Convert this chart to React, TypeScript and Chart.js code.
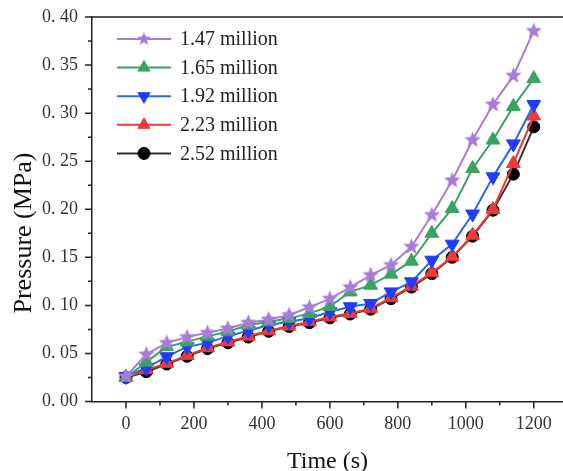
import React, { useEffect, useRef } from "react";
import { Chart, registerables } from "chart.js";

Chart.register(...registerables);

const times = [0, 60, 120, 180, 240, 300, 360, 420, 480, 540, 600, 660, 720, 780, 840, 900, 960, 1020, 1080, 1140, 1200];
const p147 = [0.026, 0.049, 0.061, 0.067, 0.0715, 0.076, 0.082, 0.0854, 0.09, 0.098, 0.107, 0.1187, 0.1315, 0.142, 0.161, 0.194, 0.23, 0.272, 0.309, 0.339, 0.3855];
const p165 = [0.025, 0.041, 0.057, 0.062, 0.068, 0.0726, 0.0795, 0.083, 0.0865, 0.0917, 0.099, 0.114, 0.121, 0.1325, 0.146, 0.175, 0.2008, 0.2424, 0.272, 0.307, 0.336];
const p192 = [0.026, 0.035, 0.0466, 0.057, 0.061, 0.068, 0.0736, 0.0795, 0.083, 0.0865, 0.0934, 0.0986, 0.102, 0.114, 0.1245, 0.147, 0.1637, 0.195, 0.2337, 0.268, 0.309];
const p223 = [0.025, 0.033, 0.0397, 0.048, 0.056, 0.062, 0.068, 0.0736, 0.0785, 0.083, 0.088, 0.0917, 0.0969, 0.108, 0.12, 0.134, 0.1505, 0.173, 0.1998, 0.2476, 0.297];
const p252 = [0.025, 0.031, 0.039, 0.047, 0.055, 0.061, 0.067, 0.073, 0.078, 0.082, 0.087, 0.091, 0.096, 0.107, 0.119, 0.133, 0.15, 0.172, 0.199, 0.2365, 0.2857];

const seriesNames = ["1.47 million", "1.65 million", "1.92 million", "2.23 million", "2.52 million"];
const xTicks = [0, 200, 400, 600, 800, 1000, 1200];
const xMinorTicks = [100, 300, 500, 700, 900, 1100];
const yTicks = [0, 0.05, 0.1, 0.15, 0.2, 0.25, 0.3, 0.35, 0.4];
const yMinorTicks = [0.025, 0.075, 0.125, 0.175, 0.225, 0.275, 0.325, 0.375];

const xTitle = "Time (s)";
const yTitle = "Pressure (MPa)";

function makeStar(color: string, R: number) {
  const c = document.createElement("canvas");
  const s = Math.ceil(R * 2 + 2);
  c.width = s;
  c.height = s;
  const ctx = c.getContext("2d")!;
  const cx = s / 2, cy = s / 2;
  const r = R * 0.45;
  ctx.beginPath();
  for (let i = 0; i < 10; i++) {
    const a = -Math.PI / 2 + (i * Math.PI) / 5;
    const rr = i % 2 === 0 ? R : r;
    const px = cx + Math.cos(a) * rr, py = cy + Math.sin(a) * rr;
    if (i === 0) ctx.moveTo(px, py);
    else ctx.lineTo(px, py);
  }
  ctx.closePath();
  ctx.fillStyle = color;
  ctx.fill();
  return c;
}

const AXIS_COLOR = "#222";
const FONT = "'Liberation Serif', 'Times New Roman', serif";

function drawPointLegend(ctx: CanvasRenderingContext2D, style: any, r: number, rot: number, x: number, y: number) {
  if (typeof style !== "string") {
    ctx.drawImage(style, x - style.width / 2, y - style.height / 2);
    return;
  }
  ctx.beginPath();
  if (style === "circle") {
    ctx.arc(x, y, r, 0, Math.PI * 2);
  } else {
    let rad = (rot * Math.PI) / 180;
    for (let k = 0; k < 3; k++) {
      const px = x + Math.sin(rad) * r, py = y - Math.cos(rad) * r;
      if (k === 0) ctx.moveTo(px, py);
      else ctx.lineTo(px, py);
      rad += (2 * Math.PI) / 3;
    }
    ctx.closePath();
  }
  ctx.fill();
  ctx.stroke();
}

export default function App() {
  const ref = useRef<HTMLCanvasElement>(null);

  useEffect(() => {
    document.body.style.margin = "0";
    const star = makeStar("#A87DDA", 8.5);
    const legendStar = makeStar("#A87DDA", 7);

    const mk = (vals: number[]) => times.map((t, i) => ({ x: t, y: vals[i] }));

    const datasets: any[] = [
      { label: seriesNames[0], data: mk(p147), borderColor: "#A87DDA", backgroundColor: "#A87DDA", pointStyle: star, pointRadius: 8, legendStyle: legendStar },
      { label: seriesNames[1], data: mk(p165), borderColor: "#3BA35F", backgroundColor: "#3BA35F", pointStyle: "triangle", pointRadius: 8, pointRotation: 0 },
      { label: seriesNames[2], data: mk(p192), borderColor: "#2A6AE6", backgroundColor: "#1F3CFF", pointBorderColor: "#1F3CFF", pointStyle: "triangle", pointRadius: 8, pointRotation: 180 },
      { label: seriesNames[3], data: mk(p223), borderColor: "#EE3A3A", backgroundColor: "#EE3A3A", pointStyle: "triangle", pointRadius: 8, pointRotation: 0 },
      { label: seriesNames[4], data: mk(p252), borderColor: "#333", backgroundColor: "#000", pointBorderColor: "#000", pointStyle: "circle", pointRadius: 6, pointRotation: 0 },
    ].map((d) => ({ borderWidth: 2, pointBorderWidth: 1, pointHoverRadius: d.pointRadius, tension: 0, ...d }));

    const decor = {
      id: "decor",
      afterDraw(chart: any) {
        const ctx = chart.ctx;
        const { left, right, top, bottom } = chart.chartArea;
        const xs = chart.scales.x, ys = chart.scales.y;
        ctx.save();
        ctx.strokeStyle = AXIS_COLOR;
        ctx.lineWidth = 1.5;
        ctx.beginPath();
        ctx.moveTo(left, top);
        ctx.lineTo(right, top);
        xTicks.forEach((v) => {
          const px = xs.getPixelForValue(v);
          ctx.moveTo(px, bottom);
          ctx.lineTo(px, bottom + 7);
        });
        xMinorTicks.forEach((v) => {
          const px = xs.getPixelForValue(v);
          ctx.moveTo(px, bottom);
          ctx.lineTo(px, bottom + 4);
        });
        yTicks.forEach((v) => {
          const py = ys.getPixelForValue(v);
          ctx.moveTo(left, py);
          ctx.lineTo(left - 7, py);
        });
        yMinorTicks.forEach((v) => {
          const py = ys.getPixelForValue(v);
          ctx.moveTo(left, py);
          ctx.lineTo(left - 4, py);
        });
        ctx.stroke();

        // titles
        ctx.fillStyle = "#111";
        ctx.textAlign = "center";
        ctx.textBaseline = "alphabetic";
        ctx.font = `24px ${FONT}`;
        ctx.fillText(xTitle, (left + right) / 2, 468);
        ctx.save();
        ctx.translate(31, 233);
        ctx.rotate(-Math.PI / 2);
        ctx.font = `26px ${FONT}`;
        ctx.fillText(yTitle, 0, 0);
        ctx.restore();

        // legend
        chart.data.datasets.forEach((d: any, i: number) => {
          const y = top + 22 + i * 28.6;
          const x0 = left + 25, x1 = left + 79;
          ctx.strokeStyle = d.borderColor;
          ctx.lineWidth = 2;
          ctx.beginPath();
          ctx.moveTo(x0, y);
          ctx.lineTo(x1, y);
          ctx.stroke();
          const style = d.legendStyle || d.pointStyle;
          ctx.fillStyle = d.backgroundColor;
          ctx.strokeStyle = d.pointBorderColor || d.backgroundColor;
          ctx.lineWidth = 1;
          drawPointLegend(ctx, style, d.pointRadius - (style === "circle" ? 0 : 1), d.pointRotation || 0, (x0 + x1) / 2, y);
          ctx.fillStyle = "#222";
          ctx.textAlign = "left";
          ctx.textBaseline = "middle";
          ctx.font = `20px ${FONT}`;
          ctx.fillText(d.label, left + 88, y + 1);
        });
        ctx.restore();
      },
    };

    const chart = new Chart(ref.current!, {
      type: "line",
      data: { datasets },
      options: {
        animation: false,
        responsive: false,
        maintainAspectRatio: false,
        layout: { autoPadding: false, padding: { top: 17, right: 0, left: 0, bottom: 0 } },
        plugins: { legend: { display: false }, tooltip: { enabled: false } },
        scales: {
          x: {
            type: "linear",
            min: -100,
            max: 1286,
            afterFit: (s: any) => { s.height = 69.5; s.paddingLeft = 0; s.paddingRight = 0; },
            afterBuildTicks: (s: any) => { s.ticks = xTicks.map((v) => ({ value: v })); },
            grid: { display: true, drawOnChartArea: false, drawTicks: false },
            border: { display: true, color: AXIS_COLOR, width: 1.5 },
            ticks: { padding: 12, color: "#333", font: { family: FONT, size: 18 }, callback: (v: any) => String(v) },
          },
          y: {
            type: "linear",
            min: 0,
            max: 0.4,
            afterFit: (s: any) => { s.width = 92; s.paddingTop = 0; s.paddingBottom = 0; },
            afterBuildTicks: (s: any) => { s.ticks = yTicks.map((v) => ({ value: v })); },
            grid: { display: true, drawOnChartArea: false, drawTicks: false },
            border: { display: true, color: AXIS_COLOR, width: 1.5 },
            ticks: { padding: 14, color: "#333", font: { family: FONT, size: 18 }, callback: (v: any) => Number(v).toFixed(2).replace(".", ". ") },
          },
        },
      } as any,
      plugins: [decor],
    });
    return () => chart.destroy();
  }, []);

  return (
    <div style={{ position: "absolute", left: 0, top: 0, width: 563, height: 471, background: "#fff" }}>
      <canvas ref={ref} width={563} height={471} style={{ width: 563, height: 471, display: "block" }} />
    </div>
  );
}
